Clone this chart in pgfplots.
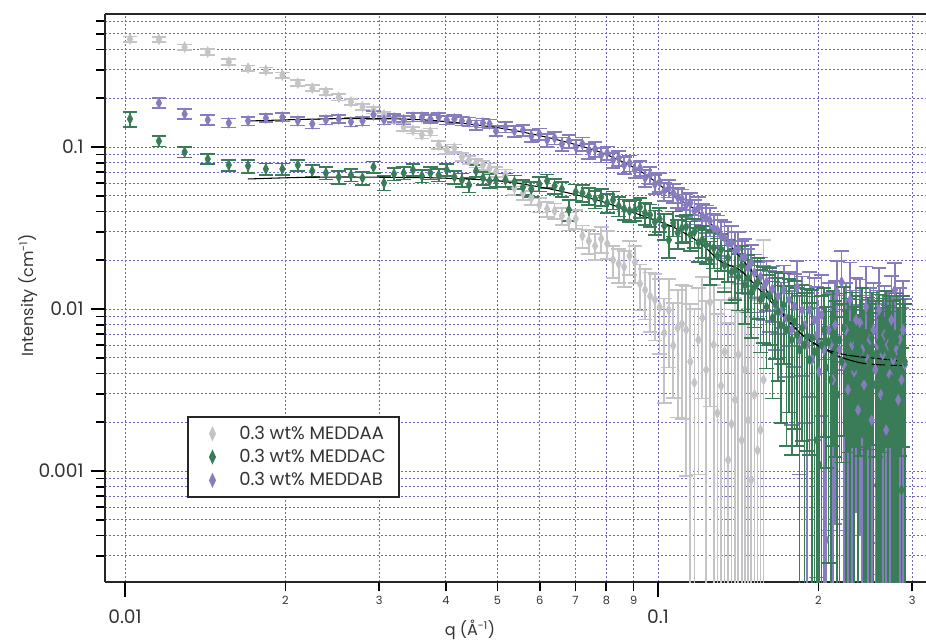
\documentclass[border=0pt]{standalone}
\usepackage{fontspec}
\setmainfont{Poppins}
\usepackage{pgfplots}
\pgfplotsset{compat=1.18}

\definecolor{cgray}{RGB}{196,196,199}
\definecolor{cpurple}{RGB}{134,124,190}
\definecolor{cgreen}{RGB}{58,124,88}
\definecolor{cgrid}{RGB}{110,100,200}

\tikzset{dotgrid/.style={draw=cgrid, dash pattern=on 1.5pt off 1.5pt, line width=0.6pt}}
\pgfplotsset{
  saxs/.style={only marks, mark=diamond*, mark size=4pt, forget plot,
    color=#1, mark options={xscale=0.7, draw=#1, fill=#1, line width=0.4pt},
    error bars/.cd, y dir=both, y explicit,
    error bar style={line width=1.3pt, color=#1},
    error mark options={rotate=90, mark size=5.5pt, line width=1.3pt, color=#1}},
}

\begin{document}
\begin{tikzpicture}
\useasboundingbox (0,0) rectangle (694.5pt,480pt);
\begin{axis}[
  name=ax,
  scale only axis,
  width=615.75pt, height=426pt,
  at={(78.75pt,43.5pt)}, anchor=south west,
  xmode=log, ymode=log,
  xmin=0.009173, xmax=0.31827,
  ymin=2.0643e-4, ymax=0.66249,
  axis lines*=left,
  axis line style={-, line width=1.5pt, black!85},
  tick align=outside,
  major tick length=7pt,
  every tick/.style={line width=1.3pt},
  minor xtick={}, minor ytick={},
  % every decade subdivision carries a grid line and a short tick
  xtick={0.01,0.02,0.03,0.04,0.05,0.06,0.07,0.08,0.09,0.1,0.2,0.3},
  xticklabels={,2,3,4,5,6,7,8,9,,2,3},
  xticklabel style={font=\fontsize{8.5}{10}\selectfont, text=black!80},
  ytick={0.0003,0.0004,0.0005,0.0006,0.0007,0.0008,0.0009,0.001,
    0.002,0.003,0.004,0.005,0.006,0.007,0.008,0.009,0.01,
    0.02,0.03,0.04,0.05,0.06,0.07,0.08,0.09,0.1,0.2,0.3,0.4,0.5,0.6},
  yticklabels={},
  % decades: longer ticks and the large labels
  extra x ticks={0.01,0.1},
  extra x tick labels={0.01,0.1},
  extra x tick style={grid=none, major tick length=11pt,
    xticklabel style={font=\fontsize{14}{16}\selectfont, yshift=-6pt}},
  extra y ticks={0.001,0.01,0.1},
  extra y tick labels={0.001,0.01,0.1},
  extra y tick style={grid=none, major tick length=10.5pt,
    yticklabel style={font=\fontsize{14}{16}\selectfont, text=black!80, xshift=-2pt}},
  /pgf/number format/assume math mode=true,
  grid=major,
  major grid style={dotgrid},
  every axis x label/.style={at={(axis description cs:0.4446,-0.084)}, anchor=center},
  every axis y label/.style={at={(axis description cs:-0.094,0.505)}, rotate=90, anchor=center},
  xlabel={q (Å\textsuperscript{-1})},
  ylabel={Intensity (cm\textsuperscript{-1})},
  label style={font=\fontsize{12}{14}\selectfont, text=black!80},
  legend style={at={(0.0999,0.2923)}, anchor=north west, draw=black!85,
    line width=1.2pt, fill=white, font=\fontsize{13.5}{15}\selectfont,
    text=black!80, row sep=2pt, inner xsep=8pt, inner ysep=5pt},
  legend cell align=left,
  legend image code/.code={\path (0pt,0pt) (27.4pt,0pt);
    \draw[#1] plot coordinates {(9.9pt,0pt)};},
]

% 0.3 wt% MEDDAA
\addplot[saxs=cgray] table[row sep=\\, x=q, y=I, y error plus=ep, y error minus=em] {
q I ep em\\
0.01022 0.464 0.018 0.018\\ 0.01158 0.462 0.018 0.018\\ 0.01294 0.414 0.016 0.016\\
0.01430 0.386 0.015 0.015\\ 0.01566 0.335 0.013 0.013\\ 0.01702 0.307 0.012 0.012\\
0.01838 0.298 0.012 0.012\\ 0.01974 0.278 0.011 0.011\\ 0.02110 0.248 0.010 0.010\\
0.02246 0.231 0.010 0.010\\ 0.02382 0.219 0.009 0.009\\ 0.02518 0.203 0.009 0.009\\
0.02654 0.190 0.008 0.008\\ 0.02790 0.177 0.008 0.008\\ 0.02926 0.169 0.008 0.008\\
0.03062 0.158 0.007 0.007\\ 0.03198 0.147 0.007 0.007\\ 0.03334 0.133 0.007 0.007\\
0.03470 0.127 0.006 0.006\\ 0.03606 0.119 0.006 0.006\\ 0.03742 0.124 0.006 0.006\\
0.03878 0.103 0.006 0.006\\ 0.04014 0.0958 0.005 0.005\\ 0.04150 0.0986 0.005 0.005\\
0.04286 0.0867 0.005 0.005\\ 0.04422 0.0832 0.005 0.005\\ 0.04558 0.0797 0.005 0.005\\
0.04694 0.0774 0.005 0.005\\ 0.04830 0.0742 0.005 0.005\\ 0.04966 0.0701 0.005 0.005\\
0.05174 0.0672 0.0055 0.0055\\ 0.05378 0.0558 0.005 0.005\\ 0.05582 0.0520 0.005 0.005\\
0.05786 0.0485 0.0048 0.0048\\ 0.05990 0.0439 0.0045 0.0045\\ 0.06194 0.0415 0.0045 0.0045\\
0.06398 0.0403 0.0045 0.0045\\ 0.06602 0.0376 0.0045 0.0045\\ 0.06806 0.0350 0.0045 0.0045\\
0.07010 0.0360 0.0048 0.0048\\ 0.07214 0.0283 0.0045 0.0045\\ 0.07418 0.0263 0.0045 0.0045\\
0.07622 0.0245 0.0045 0.0045\\ 0.07826 0.0271 0.005 0.005\\ 0.08030 0.0253 0.005 0.005\\
0.08234 0.0201 0.0045 0.0045\\ 0.08438 0.0190 0.0045 0.0045\\ 0.08642 0.0182 0.0045 0.0045\\
0.08846 0.0213 0.005 0.005\\ 0.09050 0.0195 0.005 0.005\\ 0.09254 0.0143 0.0045 0.0045\\
0.09458 0.0131 0.0045 0.0045\\ 0.09662 0.0120 0.0048 0.0048\\ 0.09866 0.0114 0.005 0.005\\
0.10070 0.0103 0.005 0.005\\ 0.10274 0.00712 0.0045 0.0045\\ 0.10478 0.00986 0.0055 0.0055\\
0.10682 0.00593 0.005 0.0031\\ 0.10886 0.00764 0.0055 0.0055\\ 0.11090 0.00809 0.006 0.006\\
0.11294 0.00743 0.0065 0.0065\\ 0.11498 0.00473 0.006 0.00463\\ 0.11702 0.00351 0.0065 0.00341\\
0.11906 0.00645 0.007 0.0055\\ 0.12110 0.00880 0.007 0.0060\\ 0.12314 0.00422 0.007 0.00412\\
0.12518 0.0110 0.008 0.0085\\ 0.12722 0.00601 0.008 0.00591\\ 0.12926 0.00228 0.007 0.00218\\
0.13130 0.00336 0.008 0.00326\\ 0.13334 0.00544 0.008 0.00534\\ 0.13538 0.00117 0.007 0.00107\\
0.13742 0.00195 0.008 0.00185\\ 0.13946 0.00275 0.009 0.00265\\ 0.14150 0.00522 0.009 0.00512\\
0.14354 0.00155 0.008 0.00145\\ 0.14558 0.00422 0.009 0.00412\\ 0.14762 0.00206 0.008 0.00196\\
0.14966 0.000881 0.008 0.000781\\ 0.15170 0.00296 0.009 0.00286\\ 0.15374 0.00134 0.010 0.00124\\
0.15578 0.00179 0.010 0.00169\\ 0.15782 0.00366 0.023 0.00356\\
};

% 0.3 wt% MEDDAB
\addplot[saxs=cpurple] table[row sep=\\, x=q, y=I, y error plus=ep, y error minus=em] {
q I ep em\\
0.01158 0.187 0.013 0.013\\ 0.01294 0.160 0.011 0.011\\ 0.01430 0.147 0.010 0.010\\
0.01566 0.141 0.009 0.009\\ 0.01702 0.145 0.009 0.009\\ 0.01838 0.151 0.009 0.009\\
0.01974 0.153 0.009 0.009\\ 0.02110 0.145 0.009 0.009\\ 0.02246 0.139 0.009 0.009\\
0.02382 0.147 0.009 0.009\\ 0.02518 0.149 0.009 0.009\\ 0.02654 0.143 0.009 0.009\\
0.02790 0.145 0.009 0.009\\ 0.02926 0.158 0.009 0.009\\ 0.03062 0.147 0.009 0.009\\
0.03198 0.151 0.009 0.009\\ 0.03334 0.147 0.009 0.009\\ 0.03470 0.153 0.009 0.009\\
0.03606 0.153 0.009 0.009\\ 0.03742 0.149 0.009 0.009\\ 0.03878 0.153 0.009 0.009\\
0.04014 0.147 0.009 0.009\\ 0.04150 0.149 0.009 0.009\\ 0.04286 0.145 0.009 0.009\\
0.04422 0.143 0.009 0.009\\ 0.04558 0.137 0.009 0.009\\ 0.04694 0.141 0.009 0.009\\
0.04830 0.139 0.009 0.009\\ 0.04966 0.1255 0.009 0.009\\
0.05174 0.1329 0.010 0.010\\ 0.05378 0.1255 0.010 0.010\\ 0.05582 0.1273 0.010 0.010\\
0.05786 0.1169 0.010 0.010\\ 0.05990 0.1203 0.010 0.010\\ 0.06194 0.1105 0.010 0.010\\
0.06398 0.1137 0.010 0.010\\ 0.06602 0.1043 0.010 0.010\\ 0.06806 0.1089 0.010 0.010\\
0.07010 0.1000 0.010 0.010\\ 0.07214 0.1043 0.010 0.010\\ 0.07418 0.0945 0.010 0.010\\
0.07622 0.0972 0.010 0.010\\ 0.07826 0.0893 0.009 0.009\\ 0.08030 0.0918 0.009 0.009\\
0.08234 0.0832 0.009 0.009\\ 0.08438 0.0855 0.009 0.009\\ 0.08642 0.0774 0.009 0.009\\
0.08846 0.0797 0.009 0.009\\ 0.09050 0.0722 0.008 0.008\\ 0.09254 0.0742 0.008 0.008\\
0.09458 0.0644 0.008 0.008\\ 0.09662 0.0672 0.008 0.008\\ 0.09866 0.0591 0.008 0.008\\
0.10070 0.0608 0.008 0.008\\ 0.10274 0.0535 0.007 0.007\\ 0.10478 0.0558 0.007 0.007\\
0.10682 0.0520 0.007 0.007\\ 0.10886 0.0491 0.007 0.007\\ 0.11090 0.0477 0.007 0.007\\
0.11294 0.0439 0.007 0.007\\ 0.11498 0.0451 0.007 0.007\\ 0.11702 0.0403 0.007 0.007\\
0.11906 0.0420 0.007 0.007\\ 0.12110 0.0376 0.007 0.007\\ 0.12314 0.0365 0.007 0.007\\
0.12518 0.0350 0.007 0.007\\ 0.12722 0.0316 0.007 0.007\\ 0.12926 0.0308 0.007 0.007\\
0.13130 0.0283 0.007 0.007\\ 0.13334 0.0275 0.007 0.007\\ 0.13538 0.0253 0.007 0.007\\
0.13742 0.0256 0.007 0.007\\ 0.13946 0.0228 0.007 0.007\\ 0.14150 0.0235 0.0065 0.0065\\
0.14354 0.0204 0.006 0.006\\ 0.14558 0.0210 0.006 0.006\\ 0.14762 0.0179 0.0055 0.0055\\
0.14966 0.0193 0.0055 0.0055\\ 0.15170 0.0167 0.005 0.005\\ 0.15374 0.0145 0.005 0.005\\
0.15578 0.0158 0.005 0.005\\ 0.15782 0.0135 0.005 0.005\\ 0.15986 0.0147 0.005 0.005\\
0.16190 0.0122 0.005 0.005\\ 0.16394 0.0133 0.005 0.005\\ 0.16598 0.0106 0.005 0.005\\
0.16802 0.0120 0.005 0.005\\ 0.17006 0.00959 0.005 0.005\\ 0.17210 0.0131 0.0055 0.0055\\
0.17414 0.00880 0.005 0.005\\ 0.17618 0.0114 0.0055 0.0055\\ 0.17822 0.00743 0.0055 0.0055\\
0.18026 0.0104 0.006 0.006\\ 0.18230 0.0137 0.006 0.006\\ 0.18434 0.00645 0.0055 0.0055\\
0.18638 0.00986 0.006 0.006\\ 0.18842 0.00797 0.006 0.006\\ 0.19046 0.00601 0.0065 0.00591\\
0.19250 0.00986 0.007 0.007\\ 0.19454 0.00486 0.006 0.00476\\ 0.19658 0.00856 0.007 0.007\\
0.19862 0.00692 0.0068 0.0067\\ 0.20066 0.00410 0.006 0.00400\\ 0.20270 0.00919 0.007 0.007\\
0.20474 0.00560 0.0065 0.00550\\ 0.20678 0.000376 0.0045 0.000276\\ 0.20882 0.00743 0.007 0.0070\\
0.21086 0.00601 0.0065 0.00591\\ 0.21290 0.00366 0.006 0.00356\\ 0.21494 0.00797 0.007 0.0075\\
0.21698 0.0127 0.007 0.0085\\ 0.21902 0.00560 0.0065 0.00550\\ 0.22106 0.0147 0.008 0.010\\
0.22310 0.00453 0.006 0.00443\\ 0.22514 0.00743 0.007 0.0070\\ 0.22718 0.00318 0.0065 0.00308\\
0.22922 0.0114 0.008 0.0095\\ 0.23126 0.00601 0.007 0.00591\\ 0.23330 0.00410 0.0065 0.00400\\
0.23534 0.00856 0.007 0.0080\\ 0.23738 0.00238 0.0065 0.00228\\ 0.23942 0.00820 0.007 0.0078\\
0.24146 0.00560 0.0065 0.0055\\ 0.24350 0.00341 0.0065 0.00331\\ 0.24554 0.0103 0.008 0.0095\\
0.24758 0.00486 0.0065 0.00476\\ 0.24962 0.00645 0.007 0.00635\\ 0.25166 0.00206 0.0065 0.00196\\
0.25370 0.00743 0.007 0.0072\\ 0.25574 0.00422 0.0065 0.00412\\ 0.25778 0.00601 0.007 0.00591\\
0.25982 0.00986 0.008 0.0095\\ 0.26186 0.00296 0.0065 0.00286\\ 0.26390 0.00522 0.007 0.00512\\
0.26594 0.00692 0.007 0.0068\\ 0.26798 0.00179 0.0065 0.00169\\ 0.27002 0.00601 0.007 0.00591\\
0.27206 0.00393 0.0065 0.00383\\ 0.27410 0.00856 0.0075 0.0080\\ 0.27614 0.00486 0.007 0.00476\\
0.27818 0.0131 0.0062 0.0121\\ 0.28022 0.00560 0.007 0.0055\\ 0.28226 0.00275 0.0065 0.00265\\
0.28430 0.00645 0.007 0.00635\\ 0.28634 0.00366 0.0065 0.00356\\ 0.28838 0.00743 0.0075 0.0073\\
0.29042 0.00453 0.007 0.00443\\
};

% 0.3 wt% MEDDAC
\addplot[saxs=cgreen] table[row sep=\\, x=q, y=I, y error plus=ep, y error minus=em] {
q I ep em\\
0.01022 0.149 0.016 0.016\\ 0.01158 0.1089 0.008 0.008\\ 0.01294 0.0931 0.007 0.007\\
0.01430 0.0843 0.006 0.006\\ 0.01566 0.0774 0.006 0.006\\ 0.01702 0.0764 0.007 0.007\\
0.01838 0.0732 0.006 0.006\\ 0.01974 0.0732 0.006 0.006\\ 0.02110 0.0774 0.006 0.006\\
0.02246 0.0712 0.006 0.006\\ 0.02382 0.0691 0.006 0.006\\ 0.02518 0.0653 0.006 0.006\\
0.02654 0.0672 0.006 0.006\\ 0.02790 0.0644 0.006 0.006\\ 0.02926 0.0753 0.006 0.006\\
0.03062 0.0600 0.006 0.006\\ 0.03198 0.0682 0.006 0.006\\ 0.03334 0.0691 0.006 0.006\\
0.03470 0.0722 0.006 0.006\\ 0.03606 0.0663 0.006 0.006\\ 0.03742 0.0691 0.006 0.006\\
0.03878 0.0672 0.006 0.006\\ 0.04014 0.0722 0.006 0.006\\ 0.04150 0.0653 0.006 0.006\\
0.04286 0.0626 0.006 0.006\\ 0.04422 0.0583 0.006 0.006\\ 0.04558 0.0712 0.006 0.006\\
0.04694 0.0644 0.006 0.006\\ 0.04830 0.0617 0.006 0.006\\ 0.04966 0.0626 0.006 0.006\\
0.05174 0.0626 0.006 0.006\\ 0.05378 0.0608 0.006 0.006\\ 0.05582 0.0566 0.006 0.006\\
0.05786 0.0551 0.006 0.006\\ 0.05990 0.0591 0.006 0.006\\ 0.06194 0.0617 0.006 0.006\\
0.06398 0.0575 0.006 0.006\\ 0.06602 0.0551 0.006 0.006\\ 0.06806 0.0409 0.006 0.006\\
0.07010 0.0527 0.006 0.006\\ 0.07214 0.0520 0.006 0.006\\ 0.07418 0.0498 0.006 0.006\\
0.07622 0.0478 0.006 0.006\\ 0.07826 0.0491 0.006 0.006\\ 0.08030 0.0451 0.006 0.006\\
0.08234 0.0471 0.006 0.006\\ 0.08438 0.0432 0.006 0.006\\ 0.08642 0.0415 0.006 0.006\\
0.08846 0.0403 0.006 0.006\\ 0.09050 0.0409 0.006 0.006\\ 0.09254 0.0426 0.006 0.006\\
0.09458 0.0391 0.006 0.006\\ 0.09662 0.0381 0.006 0.006\\ 0.09866 0.0345 0.006 0.006\\
0.10070 0.0360 0.006 0.006\\ 0.10274 0.0326 0.006 0.006\\ 0.10478 0.0267 0.006 0.006\\
0.10682 0.0340 0.006 0.006\\ 0.10886 0.0295 0.006 0.006\\ 0.11090 0.0316 0.006 0.006\\
0.11294 0.0321 0.006 0.006\\ 0.11498 0.0287 0.006 0.006\\ 0.11702 0.0299 0.006 0.006\\
0.11906 0.0256 0.006 0.006\\ 0.12110 0.0267 0.006 0.006\\ 0.12314 0.0249 0.006 0.006\\
0.12518 0.0201 0.006 0.006\\ 0.12722 0.0238 0.006 0.006\\ 0.12926 0.0213 0.006 0.006\\
0.13130 0.0232 0.006 0.006\\ 0.13334 0.0187 0.006 0.006\\ 0.13538 0.0207 0.006 0.006\\
0.13742 0.0169 0.006 0.006\\ 0.13946 0.0174 0.006 0.006\\ 0.14150 0.0158 0.006 0.006\\
0.14354 0.0185 0.006 0.006\\ 0.14558 0.0141 0.006 0.006\\ 0.14762 0.0155 0.006 0.006\\
0.14966 0.0126 0.006 0.006\\ 0.15170 0.0137 0.006 0.006\\ 0.15374 0.0147 0.006 0.006\\
0.15578 0.0114 0.006 0.006\\ 0.15782 0.0122 0.006 0.006\\ 0.15986 0.0103 0.006 0.006\\
0.16190 0.0120 0.006 0.006\\ 0.16394 0.00880 0.006 0.006\\ 0.16598 0.0109 0.006 0.006\\
0.16802 0.00959 0.006 0.006\\ 0.17006 0.00797 0.006 0.006\\ 0.17210 0.0106 0.006 0.006\\
0.17414 0.00743 0.0065 0.0060\\ 0.17618 0.00880 0.0065 0.0065\\ 0.17822 0.00645 0.006 0.0052\\
0.18026 0.00832 0.0065 0.0065\\ 0.18230 0.00692 0.0065 0.0055\\ 0.18434 0.00560 0.0065 0.0055\\
0.18638 0.00764 0.0065 0.0061\\ 0.18842 0.00601 0.0065 0.0059\\ 0.19046 0.00673 0.0065 0.0054\\
0.19250 0.00486 0.006 0.0036\\ 0.19454 0.00664 0.0065 0.0065\\ 0.19658 0.00544 0.0065 0.00534\\
0.19862 0.00155 0.005 0.00145\\ 0.20066 0.00109 0.005 0.00099\\ 0.20270 0.00601 0.006 0.00591\\
0.20474 0.00743 0.006 0.0058\\ 0.20678 0.00434 0.006 0.0033\\ 0.20882 0.00627 0.006 0.0060\\
0.21086 0.00366 0.006 0.00356\\ 0.21290 0.00692 0.006 0.0055\\ 0.21494 0.00522 0.006 0.0040\\
0.21698 0.00296 0.006 0.00286\\ 0.21902 0.00645 0.006 0.0063\\ 0.22106 0.00473 0.006 0.0036\\
0.22310 0.00764 0.006 0.0060\\ 0.22514 0.00393 0.006 0.00383\\ 0.22718 0.00560 0.006 0.0043\\
0.22922 0.00238 0.006 0.00228\\ 0.23126 0.00664 0.006 0.0052\\ 0.23330 0.00434 0.006 0.00424\\
0.23534 0.00601 0.006 0.0046\\ 0.23738 0.00318 0.006 0.00308\\ 0.23942 0.00544 0.006 0.0042\\
0.24146 0.00743 0.006 0.0058\\ 0.24350 0.00393 0.006 0.00383\\ 0.24554 0.00192 0.0055 0.00182\\
0.24758 0.00576 0.006 0.0044\\ 0.24962 0.00473 0.006 0.00463\\ 0.25166 0.00664 0.006 0.0052\\
0.25370 0.00341 0.006 0.00331\\ 0.25574 0.00522 0.006 0.0040\\ 0.25778 0.000821 0.005 0.000721\\
0.25982 0.00627 0.006 0.0061\\ 0.26186 0.00410 0.006 0.00400\\ 0.26390 0.00560 0.006 0.0043\\
0.26594 0.00283 0.006 0.00273\\ 0.26798 0.00692 0.006 0.0055\\ 0.27002 0.00453 0.006 0.00443\\
0.27206 0.00601 0.006 0.0046\\ 0.27410 0.00366 0.006 0.00356\\ 0.27614 0.00522 0.006 0.00512\\
0.27818 0.00187 0.0055 0.00177\\ 0.28022 0.00645 0.006 0.0063\\ 0.28226 0.00422 0.006 0.00412\\
0.28430 0.00544 0.006 0.0042\\ 0.28634 0.000763 0.005 0.000663\\ 0.28838 0.00601 0.006 0.0046\\
0.29042 0.00473 0.006 0.00463\\
};

% model fits
\addplot[black, line width=0.8pt, smooth, forget plot] coordinates {
(0.01701,0.1447) (0.02130,0.148) (0.02643,0.150) (0.03280,0.149) (0.03899,0.1447)
(0.05053,0.131) (0.06271,0.1137) (0.07783,0.0931) (0.09252,0.0712) (0.1067,0.0505)
(0.1199,0.0391) (0.1307,0.0291) (0.1425,0.0210) (0.1553,0.0149) (0.1694,0.00986)
(0.1847,0.00712) (0.2013,0.00585) (0.2196,0.00530) (0.2393,0.00507) (0.2609,0.00493)
(0.2808,0.00479)
};
\addplot[black, line width=0.8pt, smooth, forget plot] coordinates {
(0.01701,0.0635) (0.02130,0.0649) (0.02643,0.0653) (0.03280,0.0649) (0.03899,0.0644)
(0.05053,0.0617) (0.06271,0.0551) (0.07783,0.0465) (0.09252,0.0381) (0.1067,0.0321)
(0.1199,0.0256) (0.1307,0.0198) (0.1425,0.0174) (0.1553,0.0131) (0.1694,0.00966)
(0.1847,0.00712) (0.2013,0.00585) (0.2196,0.00507) (0.2393,0.00466) (0.2609,0.00453)
(0.2883,0.00447)
};

\addlegendimage{only marks, mark=diamond*, mark size=4.3pt, mark options={xscale=0.62, draw=cgray, fill=cgray}}
\addlegendentry{0.3 wt\% MEDDAA}
\addlegendimage{only marks, mark=diamond*, mark size=4.3pt, mark options={xscale=0.62, draw=cgreen, fill=cgreen}}
\addlegendentry{0.3 wt\% MEDDAC}
\addlegendimage{only marks, mark=diamond*, mark size=4.3pt, mark options={xscale=0.62, draw=cpurple, fill=cpurple}}
\addlegendentry{0.3 wt\% MEDDAB}
\end{axis}
\draw[line width=1.5pt, black!85] (ax.north west) -- (ax.north east);
\end{tikzpicture}
\end{document}
